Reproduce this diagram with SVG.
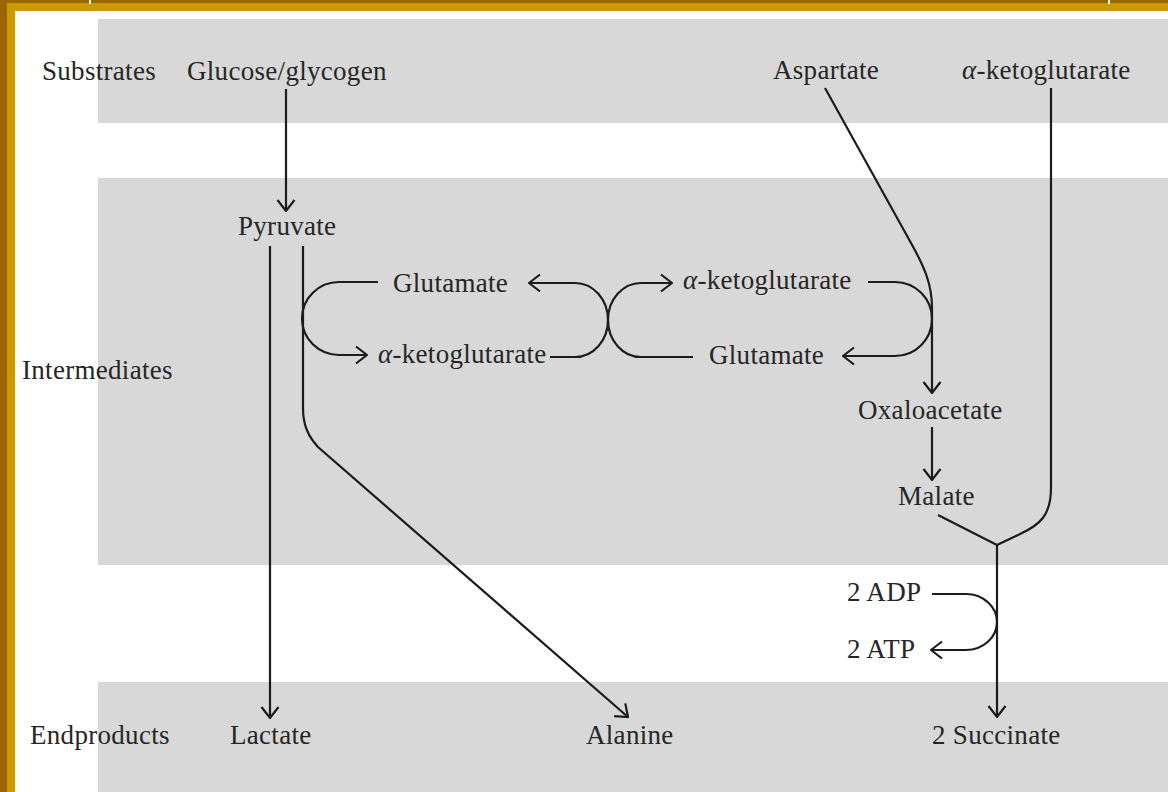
<svg xmlns="http://www.w3.org/2000/svg" width="1168" height="792" viewBox="0 0 1168 792">
<style>
  .lbl { font-family: "Liberation Serif", "Times New Roman", serif; font-size: 27px; fill: #262626; letter-spacing: 0.3px; }
  .gr { font-style: italic; }
  .ln { fill: none; stroke: #1c1c1c; stroke-width: 2.2; }
  .arr { marker-end: url(#ah); }
  .band { fill: #d8d8d8; }
</style>
<defs>
  <marker id="ah" viewBox="0 0 13 20" refX="12" refY="10" markerWidth="13" markerHeight="20" markerUnits="userSpaceOnUse" orient="auto">
    <path d="M1,1.5 L12,10 L1,18.5" fill="none" stroke="#1c1c1c" stroke-width="2.2"/>
  </marker>
</defs>
<g id="background">
  <rect x="0" y="0" width="1168" height="792" fill="#ffffff"/>
  <rect class="band" x="98" y="19" width="1070" height="104"/>
  <rect class="band" x="98" y="178" width="1070" height="387"/>
  <rect class="band" x="98" y="682" width="1070" height="110"/>
  <rect x="0" y="0" width="1168" height="11" fill="#cc9900"/>
  <rect x="0" y="0" width="15" height="792" fill="#cc9900"/>
  <rect x="0" y="0" width="1168" height="3" fill="#996600"/>
  <rect x="0" y="0" width="7" height="792" fill="#996600"/>
  <rect x="89" y="0" width="2" height="4" fill="#ffffff"/>
  <rect x="1108" y="0" width="2" height="4" fill="#ffffff"/>
</g>
<g id="connectors">
  <path class="ln arr" d="M286 89 V211"/>
  <path class="ln arr" d="M270 246 V718"/>
  <path class="ln arr" d="M303 246 V408 C303 425 308 436 318 447 L628 717"/>
  <path class="ln arr" d="M378 282 H339 A37 36.5 0 0 0 302 318.5 A37 36.5 0 0 0 339 355 H367"/>
  <path class="ln arr" d="M550 357 H575 A33 37 0 0 0 608 320 A33 37 0 0 1 641 283 H672"/>
  <path class="ln arr" d="M693 357 H641 A33 37 0 0 1 608 320 A33 37 0 0 0 575 283 H529"/>
  <path class="ln arr" d="M868 282 H895 A37 37 0 0 1 932 319 A37 37 0 0 1 895 356 H843"/>
  <path class="ln arr" d="M825 88 L911 243 C925 268 932 285 932 308 V393"/>
  <path class="ln arr" d="M932 427 V480"/>
  <path class="ln" d="M1051 88 V488 C1051 515 1040 525 1020 534 L997 545"/>
  <path class="ln" d="M938 515 L997 545"/>
  <path class="ln arr" d="M997 545 V717"/>
  <path class="ln arr" d="M932 594 H966 A31 28 0 0 1 997 622 A31 28 0 0 1 966 650 H931"/>
</g>
<g id="row-labels">
  <text id="substrates" class="lbl" x="42" y="80">Substrates</text>
  <text id="intermediates" class="lbl" x="22" y="379">Intermediates</text>
  <text id="endproducts" class="lbl" x="30" y="744">Endproducts</text>
</g>
<g id="node-glucose"><text class="lbl" x="187" y="80">Glucose/glycogen</text></g>
<g id="node-aspartate"><text class="lbl" x="773" y="79">Aspartate</text></g>
<g id="node-akg-top"><text class="lbl" x="962" y="79"><tspan class="gr">α</tspan>-ketoglutarate</text></g>
<g id="node-pyruvate"><text class="lbl" x="238" y="235">Pyruvate</text></g>
<g id="node-glutamate-left"><text class="lbl" x="393" y="292">Glutamate</text></g>
<g id="node-akg-left"><text class="lbl" x="378" y="363"><tspan class="gr">α</tspan>-ketoglutarate</text></g>
<g id="node-akg-right"><text class="lbl" x="683" y="289"><tspan class="gr">α</tspan>-ketoglutarate</text></g>
<g id="node-glutamate-right"><text class="lbl" x="709" y="364">Glutamate</text></g>
<g id="node-oxaloacetate"><text class="lbl" x="858" y="419">Oxaloacetate</text></g>
<g id="node-malate"><text class="lbl" x="898" y="505">Malate</text></g>
<g id="node-adp"><text class="lbl" x="847" y="601">2 ADP</text></g>
<g id="node-atp"><text class="lbl" x="847" y="658">2 ATP</text></g>
<g id="node-lactate"><text class="lbl" x="230" y="744">Lactate</text></g>
<g id="node-alanine"><text class="lbl" x="586" y="744">Alanine</text></g>
<g id="node-succinate"><text class="lbl" x="932" y="744">2 Succinate</text></g>
</svg>
